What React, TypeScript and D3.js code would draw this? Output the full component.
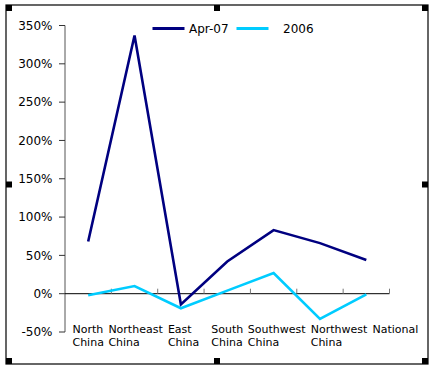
import React, { useEffect, useRef } from 'react';
import * as d3 from 'd3';

const regions = ['North China', 'Northeast China', 'East China', 'South China', 'Southwest China', 'Northwest China', 'National'];
const apr07 = [68, 337, -14, 42, 83, 66, 44];
const y2006 = [-2, 10, -19, 4, 27, -33, -1];
const yTicks = [-50, 0, 50, 100, 150, 200, 250, 300, 350];
const seriesNames = ['Apr-07', '2006'];
const seriesColors = ['#000080', '#00CCFF'];

const W = 437;
const H = 371;

const App = () => {
  const svgRef = useRef<SVGSVGElement>(null);

  useEffect(() => {
    const svg = d3.select(svgRef.current);
    svg.selectAll('*').remove();
    svg.attr('width', W).attr('height', H).style('font-family', '"DejaVu Sans", Verdana, sans-serif');

    // frame + selection handles
    const fx0 = 6, fy0 = 5, fx1 = 428, fy1 = 364;
    svg.append('rect').attr('x', W * 0).attr('y', 0).attr('width', W).attr('height', H).attr('fill', '#fff');
    svg.append('rect')
      .attr('x', fx0).attr('y', fy0).attr('width', fx1 - fx0).attr('height', fy1 - fy0)
      .attr('fill', 'none').attr('stroke', '#000').attr('stroke-width', 1.2);
    const hx = [fx0, (fx0 + fx1) / 2 - 3, fx1 - 6];
    const hy = [fy0, (fy0 + fy1) / 2 - 3, fy1 - 6];
    hx.forEach((x, i) => hy.forEach((y, j) => {
      if (i === 1 && j === 1) return;
      svg.append('rect').attr('x', x).attr('y', y).attr('width', 6).attr('height', 6).attr('fill', '#000');
    }));

    const x = d3.scaleBand().domain(regions).range([65, 389.5]);
    const y = d3.scaleLinear().domain([-50, 350]).range([332, 25.5]);

    // y axis
    const g = svg.append('g');
    g.append('line').attr('x1', 65).attr('x2', 65).attr('y1', y(-50)).attr('y2', y(350))
      .attr('stroke', '#555').attr('stroke-width', 1);
    yTicks.forEach(t => {
      g.append('line').attr('x1', 59).attr('x2', 65).attr('y1', y(t)).attr('y2', y(t)).attr('stroke', '#333');
      g.append('text').attr('x', 52.5).attr('y', y(t)).attr('dy', '0.36em')
        .attr('text-anchor', 'end').attr('font-size', 12).attr('fill', '#000').text(`${t}%`);
    });

    // x axis
    g.append('line').attr('x1', 65).attr('x2', x.range()[1]).attr('y1', y(0)).attr('y2', y(0))
      .attr('stroke', '#000').attr('stroke-width', 1);
    regions.forEach((r, i) => {
      const tx = (x(r) as number) + x.bandwidth();
      g.append('line').attr('x1', tx).attr('x2', tx).attr('y1', y(0) - 5).attr('y2', y(0))
        .attr('stroke', '#777');
    });

    // category labels (two lines, left-aligned, packed)
    let prevRight = -Infinity;
    regions.forEach(r => {
      const words = r.split(' ');
      const lab = g.append('text').attr('font-size', 11).attr('fill', '#000');
      words.forEach((w, k) => {
        lab.append('tspan').attr('x', 0).attr('y', 333 + k * 12.5).text(w);
      });
      const tw = (lab.node() as SVGTextElement).getBBox().width;
      const cx = (x(r) as number) + x.bandwidth() / 2;
      const left = Math.max(cx - tw / 2, prevRight + 4.5);
      lab.selectAll('tspan').attr('x', left);
      prevRight = left + tw;
    });

    // lines
    const line = d3.line<number>()
      .x((_, i) => (x(regions[i]) as number) + x.bandwidth() / 2)
      .y(d => y(d));
    [apr07, y2006].forEach((s, i) => {
      svg.append('path').attr('d', line(s)).attr('fill', 'none')
        .attr('stroke', seriesColors[i]).attr('stroke-width', 2.6).attr('stroke-linejoin', 'miter');
    });

    // legend
    const legX = [152.5, 236.5];
    const legTextX = [189, 283];
    seriesNames.forEach((n, i) => {
      svg.append('line').attr('x1', legX[i]).attr('x2', legX[i] + 32).attr('y1', 28.5).attr('y2', 28.5)
        .attr('stroke', seriesColors[i]).attr('stroke-width', 3);
      svg.append('text').attr('x', legTextX[i]).attr('y', 28.5).attr('dy', '0.36em')
        .attr('font-size', 12).attr('fill', '#000').text(n);
    });
  }, []);

  return <svg ref={svgRef} style={{ position: 'absolute', left: 0, top: 0 }} />;
};

export default App;
